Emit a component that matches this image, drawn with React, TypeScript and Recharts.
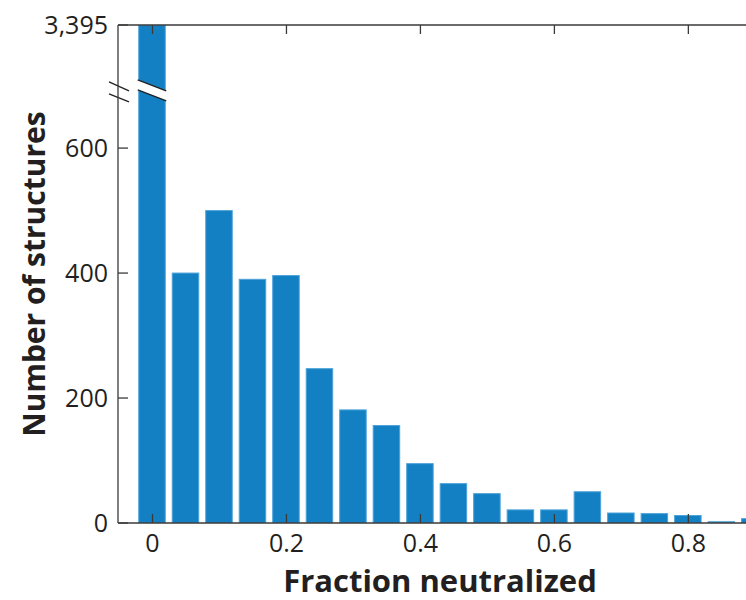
import React from "react";
import { BarChart, Bar, XAxis, YAxis, ReferenceLine } from "recharts";

// Data
const BIN_CENTERS = [0, 0.05, 0.1, 0.15, 0.2, 0.25, 0.3, 0.35, 0.4, 0.45, 0.5, 0.55, 0.6, 0.65, 0.7, 0.75, 0.8, 0.85, 0.9];
const COUNTS = [3395, 400, 500, 390, 396, 247, 181, 156, 95, 63, 47, 21, 21, 50, 16, 15, 12, 2, 7];
const X_TICKS = [0, 0.2, 0.4, 0.6, 0.8];
const Y_TICKS = [0, 200, 400, 600];
const TOP_LABEL = "3,395";
const AXIS_TOP = 797; // display value at top of broken axis
const BREAK_AT = 690; // where the break marks sit
const X_DOMAIN: [number, number] = [-0.0515, 0.898];

const data = BIN_CENTERS.map((x, i) => ({
  x,
  count: COUNTS[i],
  shown: Math.min(COUNTS[i], AXIS_TOP),
}));

const BAR_FILL = "#1380c4";
const BAR_STROKE = "#4da3da";
const AXIS_COLOR = "#3a3a3a";
const TEXT_COLOR = "#231f20";
const FONT = "'Open Sans', 'Noto Sans', sans-serif";

const BarShape = (props: any) => {
  const { x, y, width, height, payload } = props;
  if (!height || height <= 0) return null;
  const broken = payload.count > AXIS_TOP;
  let band = null;
  if (broken) {
    const ppu = height / payload.shown;
    const by = y + height - BREAK_AT * ppu;
    const l = x - 1;
    const r = x + width + 1;
    const p = `${l},${by - 12} ${r},${by - 1} ${r},${by + 9} ${l},${by - 2}`;
    band = (
      <g>
        <polygon points={p} fill="#ffffff" />
        <line x1={l} y1={by - 12} x2={r} y2={by - 1} stroke="#222" strokeWidth={1.5} />
        <line x1={l} y1={by - 2} x2={r} y2={by + 9} stroke="#222" strokeWidth={1.5} />
      </g>
    );
  }
  return (
    <g>
      <rect x={x} y={y} width={width} height={height} fill={BAR_FILL} stroke={BAR_STROKE} strokeWidth={1} />
      {band}
    </g>
  );
};

const AxisBreak = (props: any) => {
  const { x1, y1 } = props;
  if (x1 == null || y1 == null) return null;
  const cx = x1;
  const cy = y1;
  return (
    <g>
      <polygon
        points={`${cx - 9},${cy - 10} ${cx + 11},${cy - 1} ${cx + 11},${cy + 10} ${cx - 9},${cy + 2}`}
        fill="#ffffff"
      />
      <line x1={cx - 9} y1={cy - 10} x2={cx + 11} y2={cy - 1} stroke="#222" strokeWidth={1.3} />
      <line x1={cx - 9} y1={cy + 2} x2={cx + 11} y2={cy + 10} stroke="#222" strokeWidth={1.3} />
    </g>
  );
};

// inward tick on the top border
const TopTick = (props: any) => {
  const { x1, y1, y2 } = props;
  if (x1 == null || y1 == null || y2 == null) return null;
  const top = Math.min(y1, y2);
  return <line x1={x1} y1={top} x2={x1} y2={top + 9} stroke={AXIS_COLOR} strokeWidth={1.3} />;
};

const YLabel = (props: any) => {
  const vb = props.viewBox || {};
  const cy = (vb.y ?? 25) + (vb.height ?? 498) / 2;
  const x = 45;
  return (
    <text
      x={x}
      y={cy}
      transform={`rotate(-90, ${x}, ${cy})`}
      textAnchor="middle"
      fontFamily={FONT}
      fontWeight={700}
      fontSize={30}
      fill={TEXT_COLOR}
    >
      Number of structures
    </text>
  );
};

const XLabel = (props: any) => {
  const vb = props.viewBox || {};
  const cx = (vb.x ?? 118) + (vb.width ?? 636) / 2;
  return (
    <text x={cx + 4} y={592} textAnchor="middle" fontFamily={FONT} fontWeight={700} fontSize={31} fill={TEXT_COLOR}>
      Fraction neutralized
    </text>
  );
};

const tickStyle = { fontFamily: FONT, fontSize: 25, fill: TEXT_COLOR };

export default function App() {
  return (
    <div style={{ position: "fixed", left: 0, top: 0, width: 746, height: 600, overflow: "hidden", background: "#fff" }}>
      <BarChart
        width={760}
        height={600}
        data={data}
        margin={{ top: 25, right: 6, bottom: 0, left: 0 }}
        barSize={26.5}
      >
        <XAxis
          dataKey="x"
          type="number"
          domain={X_DOMAIN}
          ticks={X_TICKS}
          tickFormatter={(v: number) => String(v)}
          height={77}
          tickSize={-9}
          tickMargin={20}
          axisLine={{ stroke: AXIS_COLOR, strokeWidth: 1.3 }}
          tickLine={{ stroke: AXIS_COLOR, strokeWidth: 1.3 }}
          tick={tickStyle}
          allowDataOverflow
          label={{ value: "Fraction neutralized", content: XLabel }}
        />
        <YAxis
          type="number"
          domain={[0, AXIS_TOP]}
          ticks={[...Y_TICKS, AXIS_TOP]}
          tickFormatter={(v: number) => (v === AXIS_TOP ? TOP_LABEL : String(v))}
          width={118}
          tickSize={-10}
          tickMargin={20}
          axisLine={{ stroke: AXIS_COLOR, strokeWidth: 1.3 }}
          tickLine={{ stroke: AXIS_COLOR, strokeWidth: 1.3 }}
          tick={tickStyle}
          allowDataOverflow
          label={{ value: "Number of structures", content: YLabel }}
        />
        <Bar dataKey="shown" isAnimationActive={false} shape={BarShape} />
        <ReferenceLine y={AXIS_TOP} stroke={AXIS_COLOR} strokeWidth={1.3} ifOverflow="visible" />
        {X_TICKS.map((t) => (
          <ReferenceLine key={t} x={t} shape={TopTick} ifOverflow="visible" />
        ))}
        <ReferenceLine y={BREAK_AT} stroke="none" shape={AxisBreak} ifOverflow="visible" />
      </BarChart>
    </div>
  );
}
